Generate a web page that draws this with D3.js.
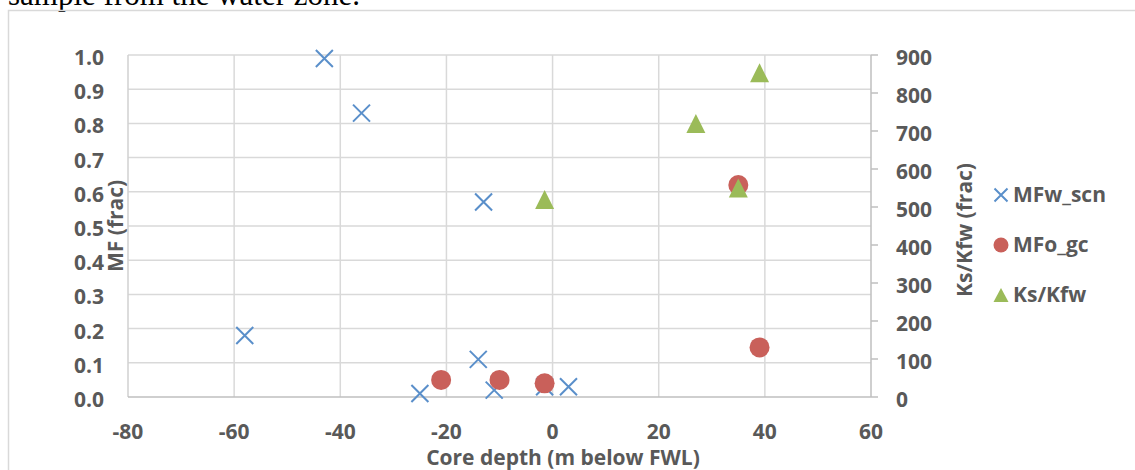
<!DOCTYPE html>
<html>
<head>
<meta charset="utf-8">
<script src="https://cdn.jsdelivr.net/npm/d3@7"></script>
<style>
  body { margin: 0; background: #fff; }
  text { font-family: "Open Sans", sans-serif; font-weight: bold; fill: #595959; }
</style>
</head>
<body>
<div id="viz"></div>
<script>
// data
var mfwDepth = [-58, -43, -36, -25, -14, -13, -11, -1.5, 3];
var mfwValue = [0.18, 0.99, 0.83, 0.01, 0.11, 0.57, 0.02, 0.03, 0.03];

var mfoDepth = [-21, -10, -1.5, 35, 39];
var mfoValue = [0.05, 0.05, 0.04, 0.62, 0.145];

var ksDepth = [-1.5, 27, 35, 39];
var ksValue = [520, 720, 550, 853];

var xTicks = [-80, -60, -40, -20, 0, 20, 40, 60];
var yLeftTicks = [0, 0.1, 0.2, 0.3, 0.4, 0.5, 0.6, 0.7, 0.8, 0.9, 1.0];
var yRightTicks = [0, 100, 200, 300, 400, 500, 600, 700, 800, 900];

var legendNames = ["MFw_scn", "MFo_gc", "Ks/Kfw"];

var blue = "#5a8fca", red = "#c9605a", green = "#9bbb59";
var fs = "21px";

var svg = d3.select("#viz").append("svg")
    .attr("width", 1135)
    .attr("height", 470);

// text of the page above the chart, cut off at the top
svg.append("text")
    .attr("x", 8)
    .attr("y", 5)
    .style("font-family", "'Liberation Serif', serif")
    .style("font-weight", "normal")
    .style("font-size", "31px")
    .style("fill", "#000")
    .text("sample from the water zone.");

// chart frame
svg.append("rect")
    .attr("x", 8.5).attr("y", 10.5)
    .attr("width", 1140).attr("height", 470)
    .style("fill", "none")
    .style("stroke", "#d9d9d9")
    .style("stroke-width", 1.5);

var x = d3.scaleLinear().domain([-80, 60]).range([128, 871]);
var yL = d3.scaleLinear().domain([0, 1]).range([397, 55]);
var yR = d3.scaleLinear().domain([0, 900]).range([397, 55]);

// grid
svg.append("g").selectAll("line")
    .data(xTicks.slice(1, -1))
    .enter().append("line")
    .attr("x1", function(d) { return x(d); })
    .attr("x2", function(d) { return x(d); })
    .attr("y1", yL(1)).attr("y2", yL(0))
    .style("stroke", "#d9d9d9").style("stroke-width", 1.5);

svg.append("g").selectAll("line")
    .data(yLeftTicks.slice(1))
    .enter().append("line")
    .attr("x1", x(-80)).attr("x2", x(60))
    .attr("y1", function(d) { return yL(d); })
    .attr("y2", function(d) { return yL(d); })
    .style("stroke", "#d9d9d9").style("stroke-width", 1.5);

// axis lines
svg.append("line")
    .attr("x1", x(-80)).attr("x2", x(-80))
    .attr("y1", yL(1)).attr("y2", yL(0))
    .style("stroke", "#d0d0d0").style("stroke-width", 1.5);

svg.append("line")
    .attr("x1", x(-80)).attr("x2", x(60))
    .attr("y1", yL(0)).attr("y2", yL(0))
    .style("stroke", "#bfbfbf").style("stroke-width", 1.5);

// right axis with outside ticks
svg.append("line")
    .attr("x1", x(60)).attr("x2", x(60))
    .attr("y1", yR(900)).attr("y2", yR(0))
    .style("stroke", "#bfbfbf").style("stroke-width", 1.5);

svg.append("g").selectAll("line")
    .data(yRightTicks)
    .enter().append("line")
    .attr("x1", x(60)).attr("x2", x(60) + 7)
    .attr("y1", function(d) { return yR(d); })
    .attr("y2", function(d) { return yR(d); })
    .style("stroke", "#bfbfbf").style("stroke-width", 1.5);

// tick labels
svg.append("g").selectAll("text")
    .data(yLeftTicks)
    .enter().append("text")
    .attr("x", 104)
    .attr("y", function(d) { return yL(d) + 10; })
    .attr("text-anchor", "end")
    .style("font-size", fs)
    .text(function(d) { return d3.format(".1f")(d); });

svg.append("g").selectAll("text")
    .data(yRightTicks)
    .enter().append("text")
    .attr("x", 896)
    .attr("y", function(d) { return yR(d) + 10; })
    .style("font-size", fs)
    .text(function(d) { return d; });

svg.append("g").selectAll("text")
    .data(xTicks)
    .enter().append("text")
    .attr("x", function(d) { return x(d); })
    .attr("y", 439)
    .attr("text-anchor", "middle")
    .style("font-size", fs)
    .text(function(d) { return d; });

// axis titles
svg.append("text")
    .attr("x", 563).attr("y", 465)
    .attr("text-anchor", "middle")
    .style("font-size", fs)
    .text("Core depth (m below FWL)");

svg.append("text")
    .attr("transform", "translate(123, 226) rotate(-90)")
    .attr("text-anchor", "middle")
    .style("font-size", fs)
    .text("MF (frac)");

svg.append("text")
    .attr("transform", "translate(972, 230) rotate(-90)")
    .attr("text-anchor", "middle")
    .style("font-size", fs)
    .text("Ks/Kfw (frac)");

// markers
function xMark(g, cx, cy, s, w) {
    g.append("path")
        .attr("d", "M" + (cx - s) + "," + (cy - s) + "L" + (cx + s) + "," + (cy + s) +
                   "M" + (cx - s) + "," + (cy + s) + "L" + (cx + s) + "," + (cy - s))
        .style("stroke", blue).style("stroke-width", w).style("fill", "none");
}

function triangle(g, cx, cy, hw, hh) {
    g.append("path")
        .attr("d", "M" + cx + "," + (cy - hh) + "L" + (cx + hw) + "," + (cy + hh) +
                   "L" + (cx - hw) + "," + (cy + hh) + "Z")
        .style("fill", green);
}

var pts = svg.append("g");

mfwDepth.forEach(function(d, i) {
    xMark(pts, x(d), yL(mfwValue[i]), 8.5, 2);
});

pts.selectAll("circle")
    .data(mfoDepth)
    .enter().append("circle")
    .attr("cx", function(d) { return x(d); })
    .attr("cy", function(d, i) { return yL(mfoValue[i]); })
    .attr("r", 10)
    .style("fill", red);

ksDepth.forEach(function(d, i) {
    triangle(pts, x(d), yR(ksValue[i]), 9.5, 9.5);
});

// legend
var legend = svg.append("g");
var legY = [195, 245, 295];

xMark(legend, 1001, legY[0], 6.5, 2);
legend.append("circle").attr("cx", 1001).attr("cy", legY[1]).attr("r", 7.5).style("fill", red);
triangle(legend, 1001, legY[2], 7.5, 7);

legend.selectAll("text")
    .data(legendNames)
    .enter().append("text")
    .attr("x", 1013)
    .attr("y", function(d, i) { return legY[i] + 7; })
    .style("font-size", fs)
    .text(function(d) { return d; });
</script>
</body>
</html>
